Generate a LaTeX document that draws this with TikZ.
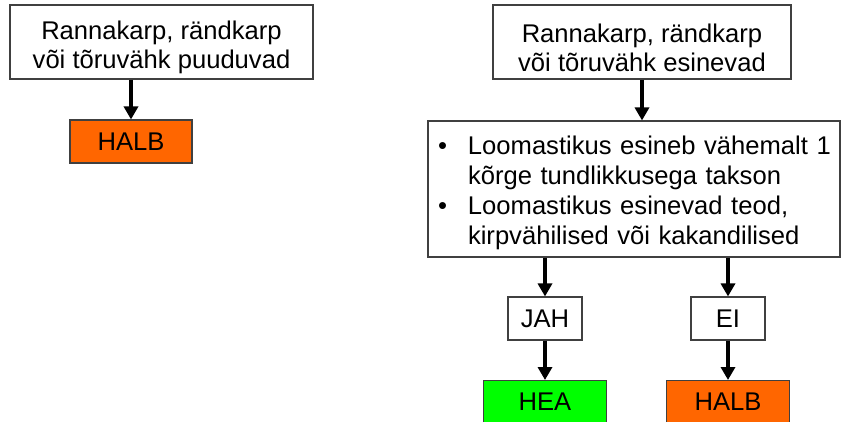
\documentclass[tikz,border=0pt]{standalone}
\usepackage{fontspec}
\setmainfont{Liberation Sans}
\usetikzlibrary{arrows.meta}
\definecolor{badorange}{HTML}{FF6600}
\definecolor{goodgreen}{HTML}{00FF00}
\definecolor{frame}{HTML}{404040}
% a tall strut that pushes a block of lines a little downwards in its box
\newcommand{\lowerstrut}{\rule{0pt}{30pt}}
\begin{document}
\begin{tikzpicture}[x=1pt,y=-1pt,
  every node/.style={font=\fontsize{25.6}{29}\selectfont},
  box/.style={draw=frame, line width=1.1pt, rectangle, inner sep=0pt, align=center},
  arr/.style={line width=4pt, -{Triangle[width=14pt,length=13pt]}}]
\useasboundingbox (0,0) rectangle (841,421);

% left branch
\node[box, minimum width=303pt, minimum height=74pt] (absent) at (161.5,42)
  {\lowerstrut Rannakarp, rändkarp\\või tõruvähk puuduvad};
\node[box, fill=badorange, minimum width=122pt, minimum height=43pt] (badL) at (131,141.5) {HALB};

% right branch
\node[box, minimum width=298pt, minimum height=74pt] (present) at (642,42)
  {\lowerstrut Rannakarp, rändkarp\\või tõruvähk esinevad};
\node[box, minimum width=412pt, minimum height=136pt, text width=392pt, inner xsep=10pt, align=left,
      font=\fontsize{25.6}{30}\selectfont] (crit) at (634,189)
  {\setlength{\tabcolsep}{0pt}%
   \renewcommand{\arraystretch}{1}%
   \begin{tabular}{@{}p{30pt}l@{}}
   \lowerstrut\textbullet & Loomastikus esineb vähemalt 1\\
   & kõrge tundlikkusega takson\\
   \textbullet & Loomastikus esinevad teod,\\
   & kirpvähilised või kakandilised
   \end{tabular}};
\node[box, minimum width=74pt, minimum height=43pt] (yes) at (545,318.5) {JAH};
\node[box, minimum width=74pt, minimum height=43pt] (no) at (728,318.5) {EI};
\node[box, fill=goodgreen, minimum width=123pt, minimum height=43pt, anchor=north] (good) at (545,380) {HEA};
\node[box, fill=badorange, minimum width=123pt, minimum height=43pt, anchor=north] (badR) at (728,380) {HALB};

% connectors
\draw[arr] (absent.south -| badL.north) -- (badL.north);
\draw[arr] (present.south) -- (crit.north -| present.south);
\draw[arr] (crit.south -| yes.north) -- (yes.north);
\draw[arr] (crit.south -| no.north) -- (no.north);
\draw[arr] (yes.south) -- (good.north);
\draw[arr] (no.south) -- (badR.north);
\end{tikzpicture}
\end{document}
